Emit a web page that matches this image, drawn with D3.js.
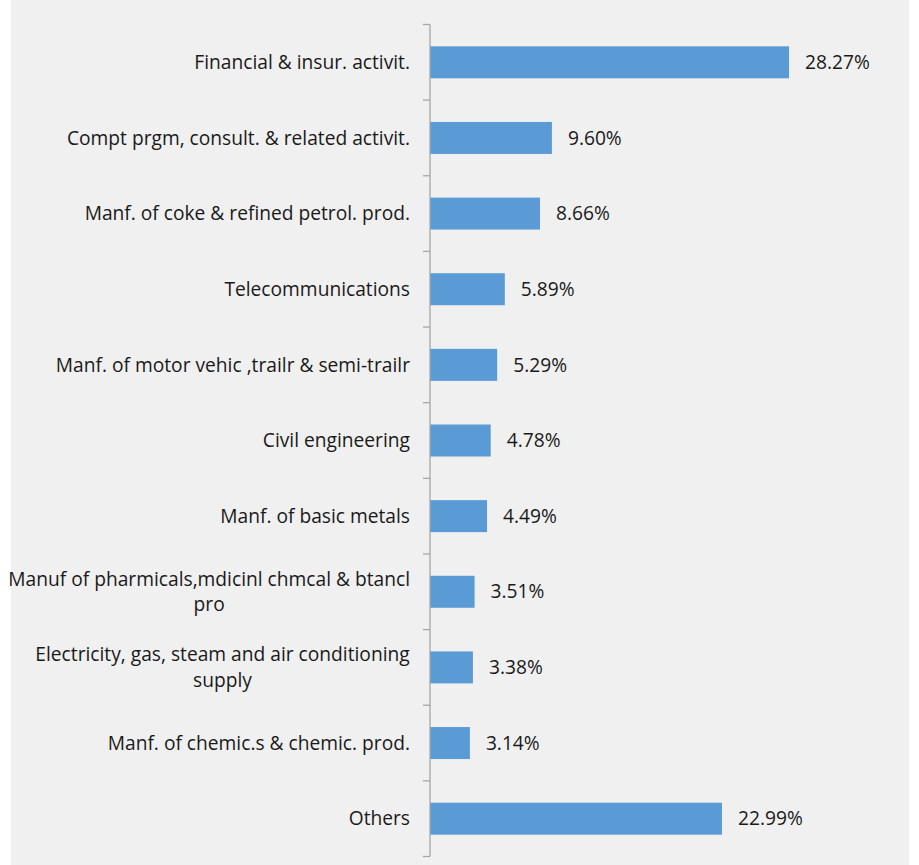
<!DOCTYPE html>
<html><head><meta charset="utf-8">
<script src="https://cdn.jsdelivr.net/npm/d3@7"></script>
<style>body{margin:0;background:#fff;}svg{display:block;}</style>
</head><body>
<svg id="c" width="919" height="865"></svg>
<script>
const categories = [
  ["Financial & insur. activit."],
  ["Compt prgm, consult. & related activit."],
  ["Manf. of coke & refined petrol. prod."],
  ["Telecommunications"],
  ["Manf. of motor vehic ,trailr & semi-trailr"],
  ["Civil engineering"],
  ["Manf. of basic metals"],
  ["Manuf of pharmicals,mdicinl chmcal & btancl", "pro"],
  ["Electricity, gas, steam and air conditioning", "supply"],
  ["Manf. of chemic.s & chemic. prod."],
  ["Others"]
];
const values = [28.27, 9.60, 8.66, 5.89, 5.29, 4.78, 4.49, 3.51, 3.38, 3.14, 22.99];
const valueLabels = ["28.27%","9.60%","8.66%","5.89%","5.29%","4.78%","4.49%","3.51%","3.38%","3.14%","22.99%"];

const svg = d3.select("#c");
svg.append("rect").attr("x",11).attr("y",0).attr("width",898).attr("height",865).attr("fill","#f0f0f0");

const x0 = 430, plotTop = 24.5, plotBottom = 856.5;
const idx = d3.range(values.length);
const y = d3.scaleBand().domain(idx).range([plotTop, plotBottom]).paddingInner(0.577).paddingOuter(0.2885);
const yb = d3.scaleBand().domain(idx).range([plotTop, plotBottom]);
const x = d3.scaleLinear().domain([0, 30]).range([x0, x0 + 381]);

const font = "'Open Sans', sans-serif";
const fs = 19.2;

// bars
svg.append("g").selectAll("rect").data(idx).join("rect")
  .attr("x", x(0)).attr("y", i => y(i)).attr("width", i => x(values[i]) - x(0))
  .attr("height", y.bandwidth()).attr("fill", "#5b9bd5");

// axis line + ticks
const ax = svg.append("g").attr("stroke", "#a6a6a6").attr("stroke-width", 1.3);
ax.append("line").attr("x1", x0).attr("x2", x0).attr("y1", plotTop).attr("y2", plotBottom);
const tickPos = idx.map(i => yb(i)).concat([plotBottom]);
ax.selectAll("line.t").data(tickPos).join("line").attr("class","t")
  .attr("x1", x0 - 7).attr("x2", x0).attr("y1", d => d).attr("y2", d => d);

// value labels
svg.append("g").selectAll("text").data(idx).join("text")
  .attr("x", i => x(values[i]) + 16).attr("y", i => yb(i) + yb.bandwidth()/2)
  .attr("dy", "0.35em").attr("font-family", font).attr("font-size", fs).attr("fill", "#1a1a1a")
  .text(i => valueLabels[i]);

// category labels
const lh = 25.5;
const lg = svg.append("g").attr("font-family", font).attr("font-size", fs).attr("fill", "#1a1a1a");
idx.forEach(i => {
  const lines = categories[i];
  const cy = yb(i) + yb.bandwidth()/2;
  const t = lg.append("text").attr("x", 410).attr("text-anchor", "end");
  lines.forEach((l, k) => {
    t.append("tspan").attr("x", 410).attr("y", cy + (k - (lines.length-1)/2) * lh).attr("dy","0.35em").text(l);
  });
  if (lines.length > 1) {
    const w = t.node().getBBox().width;
    t.attr("text-anchor", "middle");
    t.selectAll("tspan").attr("x", 410 - w/2);
  }
});
</script>
</body></html>
